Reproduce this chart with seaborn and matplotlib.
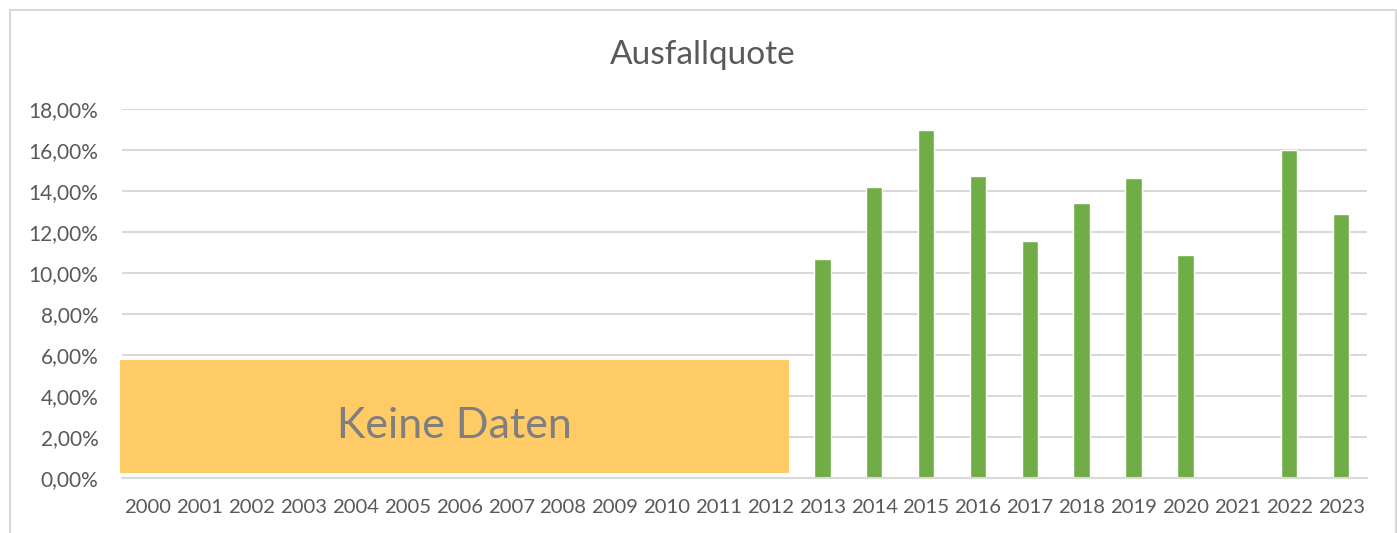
import numpy as np
import pandas as pd
import matplotlib
matplotlib.use("Agg")
import matplotlib.pyplot as plt
import seaborn as sns
from matplotlib.patches import Rectangle
from matplotlib.ticker import FuncFormatter

years = [str(y) for y in range(2000, 2024)]
quote = [np.nan] * 13 + [10.67, 14.22, 16.99, 14.74, 11.55, 13.40, 14.62, 10.89, np.nan, 16.01, 12.88]
title = "Ausfallquote"
no_data_label = "Keine Daten"

df = pd.DataFrame({"Jahr": years, "Quote": [v / 100 for v in quote]})

sns.set_theme(style="white")
plt.rcParams["font.family"] = ["Lato", "DejaVu Sans"]

W, H = 1397, 533
fig = plt.figure(figsize=(W / 100, H / 100), dpi=100)
fig.patch.set_facecolor("white")
ax = fig.add_axes([122 / W, (H - 477.7) / H, (1367 - 122) / W, 368.4 / H])

sns.barplot(data=df, x="Jahr", y="Quote", order=years, color="#70ad47",
            width=0.32, saturation=1, ax=ax, errorbar=None)

ax.set_ylim(0, 0.18)
ax.set_xlim(-0.5, len(years) - 0.5)
ax.set_yticks(np.arange(0, 0.181, 0.02))
ax.yaxis.set_major_formatter(FuncFormatter(lambda v, p: f"{v*100:.2f}%".replace(".", ",")))
ax.grid(axis="y", color="#d9d9d9", linewidth=1.5)
ax.set_axisbelow(True)
for s in ["top", "right", "left"]:
    ax.spines[s].set_visible(False)
ax.spines["bottom"].set_color("#d9d9d9")
ax.spines["bottom"].set_linewidth(1.5)
ax.tick_params(axis="y", length=0, pad=17, labelsize=15, labelcolor="#595959")
ax.tick_params(axis="x", length=0, pad=15, labelsize=14.6, labelcolor="#595959")
ax.set_xlabel("")
ax.set_ylabel("")

# "Keine Daten" box
ax.add_patch(Rectangle((-0.54, 0.0024), 12.89, 0.0551, facecolor="#fecb66",
                       edgecolor="none", zorder=3, clip_on=False))
ax.text(5.9, 0.0252, no_data_label, ha="center", va="center", fontsize=31,
        color="#7f7f7f", zorder=4)

fig.text(703 / W, 1 - 55 / H, title, ha="center", va="center", fontsize=24, color="#595959")

# chart border
fig.patches.append(Rectangle((10 / W, -0.05), (1396 - 10) / W, 1 - 10 / H + 0.05,
                             transform=fig.transFigure, facecolor="none",
                             edgecolor="#d9d9d9", linewidth=1.5))

fig.savefig("out.png", dpi=100)
